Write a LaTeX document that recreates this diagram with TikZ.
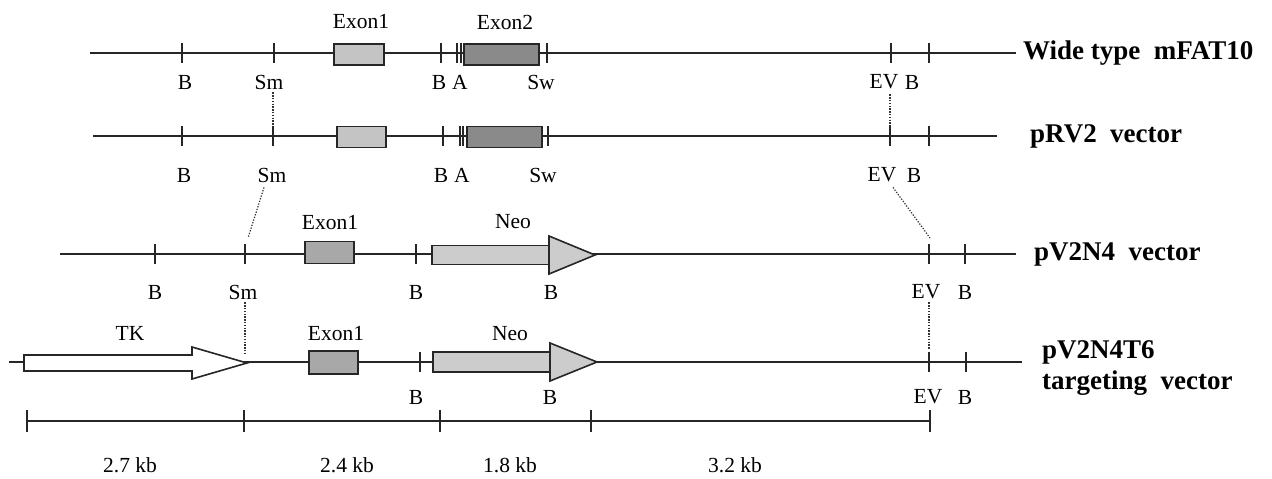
\documentclass[tikz,border=0pt]{standalone}
\usepackage{fontspec}
\setmainfont{Liberation Serif}
\definecolor{exonlight}{HTML}{C4C4C4}
\definecolor{exondark}{HTML}{8A8A8A}
\definecolor{exonmid}{HTML}{A8A8A8}
\definecolor{neofill}{HTML}{CCCCCC}
\tikzset{
  dna/.style={line width=1.7pt, draw=black!85},
  cutsite/.style={line width=1.5pt, draw=black!85},
  exonbox/.style={draw=black!85, line width=1.6pt, inner sep=0pt, rectangle},
  genearrow/.style={draw=black!85, line width=1.6pt, line join=miter},
  lab/.style={font=\fontsize{21.5}{22}\selectfont, inner sep=0pt, text=black},
  title/.style={font=\fontsize{27}{29}\selectfont\bfseries, inner sep=0pt, anchor=west, text=black, align=left},
  link/.style={line width=1.2pt, dash pattern=on 1.3pt off 1.5pt, draw=black!80}
}
% a restriction site mark across a DNA line at height #2
\newcommand\cutmark[2]{\draw[cutsite] (#1,#2-10) -- (#1,#2+10);}
% a gene drawn as a block arrow: shaft x0..x1, head x1..x2, centre y, shaft and head half heights
\newcommand\blockarrow[7]{%
  \filldraw[genearrow, fill=#7] (#1,#4-#5) rectangle (#2,#4+#5);
  \filldraw[genearrow, fill=#7] (#2,#4-#6) -- (#3,#4) -- (#2,#4+#6) -- cycle;}
\begin{document}
\begin{tikzpicture}[x=1pt, y=-1pt]
\useasboundingbox (0,0) rectangle (1272,479);

% ---------------- wild type locus ----------------
\draw[dna] (90,53) -- (1016,53);
\foreach \x in {182,274,441,457,461,547,891,929} {\cutmark{\x}{53}}
\node[exonbox, fill=exonlight, minimum width=50pt, minimum height=21pt] (wex1) at (359,54.5) {};
\node[exonbox, fill=exondark, minimum width=75pt, minimum height=21pt] (wex2) at (501.5,54.5) {};
\node[lab] (wex1l) at (361,22) {Exon1};
\node[lab] (wex2l) at (505,22) {Exon2};
\node[lab] (wB1) at (185,82) {B};
\node[lab] (wSm) at (269,82) {Sm};
\node[lab] (wB2) at (439,82) {B};
\node[lab] (wA) at (460,82) {A};
\node[lab] (wSw) at (541,82) {Sw};
\node[lab] (wEV) at (884,82) {EV};
\node[lab] (wB3) at (912,82) {B};
\node[title] (wt) at (1023,53) {Wide type~~mFAT10};

% ---------------- pRV2 vector ----------------
\draw[dna] (93,136) -- (997,136);
\foreach \x in {182,273,443,460,463,548,890,929} {\cutmark{\x}{136}}
\node[exonbox, fill=exonlight, minimum width=49pt, minimum height=21pt] (rex1) at (361.5,137) {};
\node[exonbox, fill=exondark, minimum width=75pt, minimum height=21pt] (rex2) at (504.5,137) {};
\node[lab] (rB1) at (184,175) {B};
\node[lab] (rSm) at (272,175) {Sm};
\node[lab] (rB2) at (441,175) {B};
\node[lab] (rA) at (462,175) {A};
\node[lab] (rSw) at (543,175) {Sw};
\node[lab] (rEV) at (882,175) {EV};
\node[lab] (rB3) at (914,175) {B};
\node[title] (rt) at (1030,136) {pRV2~~vector};
\coordinate (rSmtop) at (273,126);
\coordinate (rEVtop) at (890,126);
\draw[link] (wSm.south -| rSmtop) ++(0,3) -- (rSmtop);
\draw[link] (wEV.south -| rEVtop) ++(0,5) -- (rEVtop);

% ---------------- pV2N4 vector ----------------
\draw[dna] (60,254) -- (1016,254);
\foreach \x in {155,245,416,929,965} {\cutmark{\x}{254}}
\node[exonbox, fill=exonmid, minimum width=49pt, minimum height=22pt] (nex1) at (329.5,252.5) {};
\blockarrow{432}{549}{595}{255}{9.5}{19}{neofill}
\node[lab] (nex1l) at (330,223) {Exon1};
\node[lab] (nneo) at (513,222) {Neo};
\node[lab] (nB1) at (155,292) {B};
\node[lab] (nSm) at (243,292) {Sm};
\node[lab] (nB2) at (416,292) {B};
\node[lab] (nB3) at (551,292) {B};
\node[lab] (nEV) at (926,292) {EV};
\node[lab] (nB4) at (965,292) {B};
\node[title] (nt) at (1034,254) {pV2N4~~vector};
\coordinate (nSmtop) at (248,238);
\coordinate (nEVtop) at (930,238);
\draw[link] (rSm.south) ++(-8,5) -- (nSmtop);
\draw[link] (rEV.south) ++(11,5) -- (nEVtop);

% ---------------- pV2N4T6 targeting vector ----------------
\draw[dna] (9,362) -- (1022,362);
\foreach \x in {420,929,966} {\cutmark{\x}{362}}
\filldraw[genearrow, fill=white] (24,355) -- (192,355) -- (192,347) -- (247,363)
  -- (192,379) -- (192,371) -- (24,371) -- cycle;
\node[exonbox, fill=exonmid, minimum width=49pt, minimum height=23pt] (tex1) at (333.5,362.5) {};
\blockarrow{433}{550}{597}{362}{10}{19}{neofill}
\node[lab] (ttk) at (130,333) {TK};
\node[lab] (tex1l) at (336,334) {Exon1};
\node[lab] (tneo) at (510,334) {Neo};
\node[lab] (tB1) at (416,397) {B};
\node[lab] (tB2) at (550,397) {B};
\node[lab] (tEV) at (928,397) {EV};
\node[lab] (tB3) at (965,397) {B};
\node[title, anchor=west] (tt1) at (1042,352) {pV2N4T6};
\node[title, anchor=west] (tt2) at (1042,383) {targeting~~vector};
\coordinate (tSmtop) at (245,355);
\coordinate (tEVtop) at (929,350);
\draw[link] (nSm.south -| tSmtop) ++(0,3) -- (tSmtop);
\draw[link] (nEV.south -| tEVtop) ++(0,3) -- (tEVtop);

% ---------------- scale bar ----------------
\draw[dna] (27,421) -- (930,421);
\foreach \x in {27,244,440,591,930} {\draw[cutsite] (\x,410) -- (\x,432);}
\node[lab] (s1) at (130,465) {2.7 kb};
\node[lab] (s2) at (347,465) {2.4 kb};
\node[lab] (s3) at (510,465) {1.8 kb};
\node[lab] (s4) at (735,465) {3.2 kb};
\end{tikzpicture}
\end{document}
